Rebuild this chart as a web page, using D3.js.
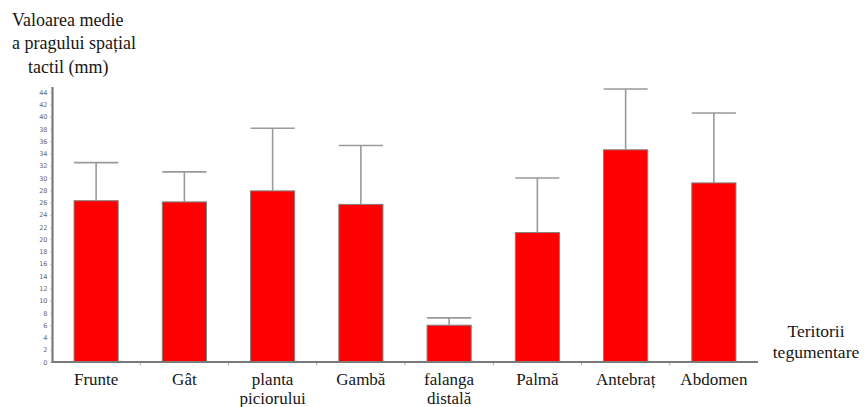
<!DOCTYPE html>
<html>
<head>
<meta charset="utf-8">
<script src="https://cdn.jsdelivr.net/npm/d3@7"></script>
<style>
  html, body { margin: 0; padding: 0; background: #fff; }
  svg { display: block; }
</style>
</head>
<body>
<svg id="chart" width="865" height="407"></svg>
<script>
// Skin territories (multi-line labels split on "\n")
const categories = ["Frunte", "Gât", "planta\npiciorului", "Gambă", "falanga\ndistală", "Palmă", "Antebraț", "Abdomen"];
// Mean spatial tactile threshold (mm)
const means = [26.3, 26.1, 27.9, 25.7, 6.0, 21.1, 34.6, 29.2];
// Standard deviation (upper error bar)
const deviations = [6.2, 4.9, 10.2, 9.6, 1.2, 8.9, 9.9, 11.4];
// Y axis tick values
const yTicks = d3.range(0, 46, 2);
const yTitle = ["Valoarea medie", "a pragului spațial", "tactil (mm)"];
const xTitle = ["Teritorii", "tegumentare"];

const SERIF = "'Liberation Serif', 'DejaVu Serif', serif";

const svg = d3.select("#chart");
const x = d3.scaleBand().domain(categories).range([52, 758]).paddingInner(0.5).paddingOuter(0.25);
const y = d3.scaleLinear().domain([0, 45]).range([362, 86]);

// Bars
svg.append("g").selectAll("rect").data(categories).join("rect")
  .attr("x", d => x(d))
  .attr("y", (d, i) => y(means[i]))
  .attr("width", x.bandwidth())
  .attr("height", (d, i) => y(0) - y(means[i]))
  .attr("fill", "#ff0000")
  .attr("stroke", "#808080")
  .attr("stroke-width", 1);

// Error bars (mean + SD)
const err = svg.append("g").attr("stroke", "#9a9a9a").attr("stroke-width", 1.6);
categories.forEach((c, i) => {
  const cx = x(c) + x.bandwidth() / 2;
  err.append("line").attr("x1", cx).attr("x2", cx)
    .attr("y1", y(means[i])).attr("y2", y(means[i] + deviations[i]));
  err.append("line").attr("x1", x(c)).attr("x2", x(c) + x.bandwidth())
    .attr("y1", y(means[i] + deviations[i])).attr("y2", y(means[i] + deviations[i]));
});

// Y axis
const yAxis = svg.append("g").attr("transform", "translate(52.5,0)")
  .call(d3.axisLeft(y).tickValues(yTicks).tickSize(2).tickPadding(3));
yAxis.select(".domain").attr("stroke", "#7a7a7a").attr("stroke-width", 2.2)
  .attr("d", `M0,${y(0)}V${y(45) + 1}`);
yAxis.selectAll(".tick line").attr("stroke", "#999");
yAxis.selectAll(".tick text")
  .style("font-family", "'DejaVu Sans', sans-serif")
  .style("font-size", "6.5px").style("fill", "#666");

// X axis with small marks on band boundaries
const xAxis = svg.append("g").attr("transform", `translate(0,${y(0)})`);
xAxis.append("line").attr("x1", 52).attr("x2", 758).attr("y1", 0).attr("y2", 0)
  .attr("stroke", "#7a7a7a").attr("stroke-width", 2.2);
const step = x.step();
xAxis.selectAll(".bound").data(d3.range(1, categories.length)).join("line")
  .attr("class", "bound")
  .attr("x1", i => 52 + i * step).attr("x2", i => 52 + i * step)
  .attr("y1", 1).attr("y2", 3.5)
  .attr("stroke", "#aaa").attr("stroke-width", 1);

// Category labels, one text per line
const labelGroups = svg.append("g").selectAll("g").data(categories).join("g")
  .attr("transform", d => `translate(${x(d) + x.bandwidth() / 2},0)`);
labelGroups.selectAll("text").data(d => d.split("\n")).join("text")
  .attr("text-anchor", "middle")
  .attr("x", 0)
  .attr("y", (d, i) => 385 + i * 18.5)
  .style("font-family", SERIF)
  .style("font-size", "17px")
  .style("fill", "#161616")
  .text(d => d);

// Y title
svg.append("g").selectAll("text").data(yTitle).join("text")
  .attr("x", (d, i) => i === 2 ? 28 : 12)
  .attr("y", (d, i) => [26, 48.5, 73][i])
  .style("font-family", SERIF)
  .style("font-size", "18px")
  .style("fill", "#161616")
  .text(d => d);

// X title
svg.append("g").selectAll("text").data(xTitle).join("text")
  .attr("x", 816).attr("text-anchor", "middle")
  .attr("y", (d, i) => [337, 358][i])
  .style("font-family", SERIF)
  .style("font-size", "17.5px")
  .style("fill", "#161616")
  .text(d => d);
</script>
</body>
</html>
